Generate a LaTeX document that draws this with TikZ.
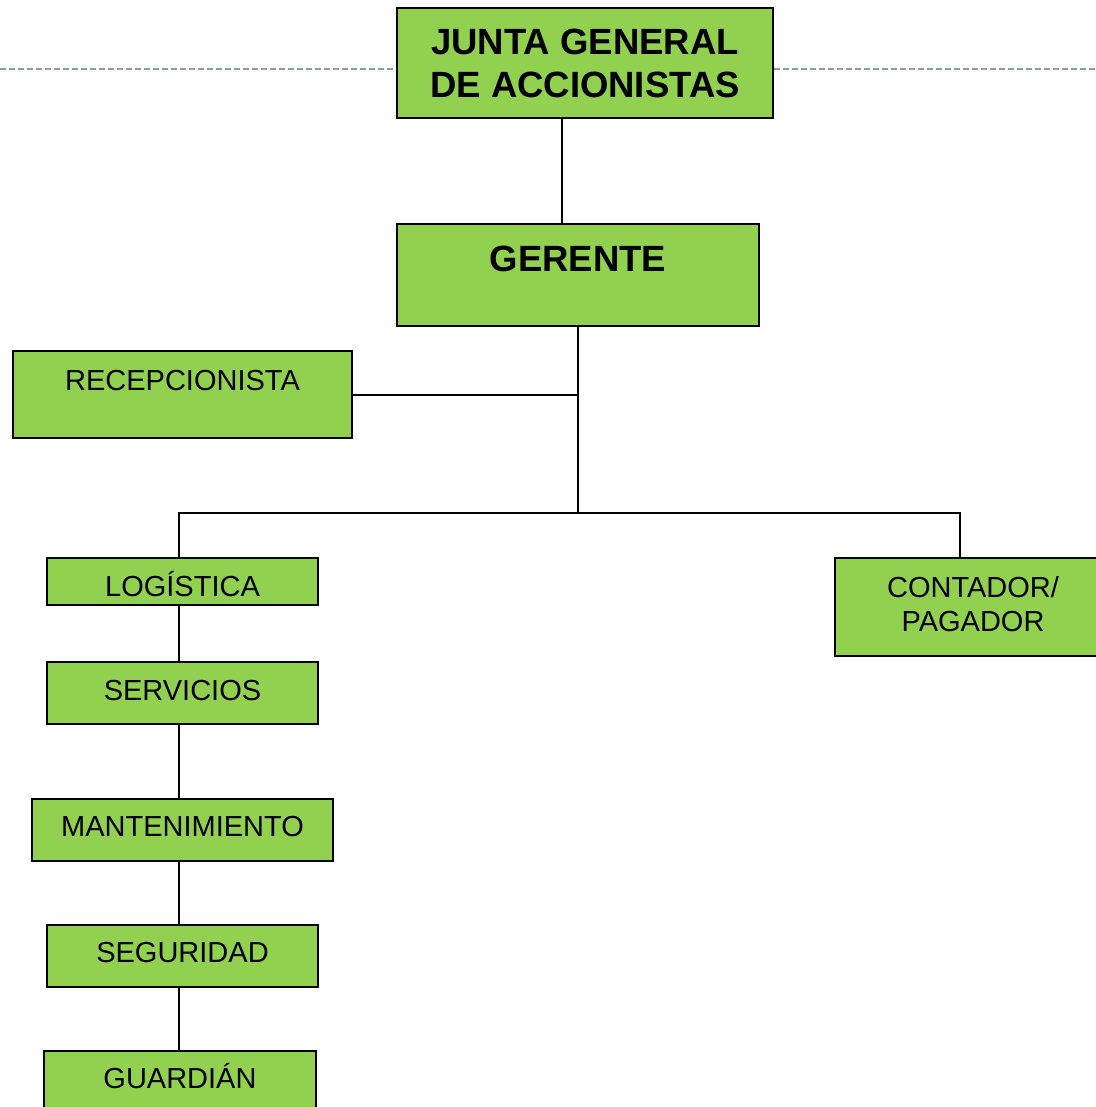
\documentclass[tikz,border=0pt]{standalone}
\usepackage{fontspec}
\setmainfont{Liberation Sans}
\definecolor{boxgreen}{HTML}{92D050}
\definecolor{sepgray}{HTML}{87A0A0}
\newcommand{\titlefont}{\fontsize{36.5}{43}\selectfont\bfseries}
\newcommand{\boxfont}{\fontsize{29}{34}\selectfont}

\begin{document}
\begin{tikzpicture}[x=1pt,y=-1pt,
  box/.style={draw, line width=2pt, fill=boxgreen, anchor=north west, inner sep=0pt, align=center, font=\boxfont},
  link/.style={line width=2pt},
  sep/.style={sepgray, line width=1.5pt, dash pattern=on 6pt off 3pt}]
\useasboundingbox (0,0) rectangle (1095,1107);
% boxes
\node[box, minimum width=376pt, minimum height=110pt, font=\titlefont] (junta) at (396,7) {JUNTA GENERAL\\DE ACCIONISTAS};
\node[box, minimum width=362pt, text height=47pt, text depth=55pt, font=\titlefont] (ger) at (396,223) {GERENTE};
\node[box, minimum width=339pt, text height=39.5pt, text depth=47.5pt] (rec) at (12,350) {RECEPCIONISTA};
\node[box, minimum width=271pt, text height=38.5pt, text depth=8.5pt] (log) at (46,557) {LOGÍSTICA};
\node[box, minimum width=271pt, text height=38.5pt, text depth=23.5pt] (serv) at (46,661) {SERVICIOS};
\node[box, minimum width=301pt, text height=37.5pt, text depth=24.5pt] (mant) at (31,798) {MANTENIMIENTO};
\node[box, minimum width=271pt, text height=37.5pt, text depth=24.5pt] (seg) at (46,924) {SEGURIDAD};
\node[box, minimum width=272pt, text height=37.5pt, text depth=30pt] (guard) at (43,1050) {GUARDIÁN};
\node[box, minimum width=276pt, text height=73.5pt, text depth=24.5pt] (cont) at (834,557) {CONTADOR/\\PAGADOR};
% separator
\draw[sep] (0,69) -- (junta.west |- 0,69);
\draw[sep] (junta.east |- 0,69) -- (1095,69);
% connectors
\coordinate (bus) at (ger.south |- 0,513);
\coordinate (chain) at (178.5,0);
\draw[link] (junta.south -| 562,0) -- (ger.north -| 562,0);
\draw[link] (ger.south) -- (bus);
\draw[link] (rec.east) -- (rec.east -| bus);
\draw[link] (log.north -| chain) |- (bus);
\draw[link] (cont.north -| 960,0) |- (bus);
\draw[link] (log.south -| chain) -- (serv.north -| chain);
\draw[link] (serv.south -| chain) -- (mant.north -| chain);
\draw[link] (mant.south -| chain) -- (seg.north -| chain);
\draw[link] (seg.south -| chain) -- (guard.north -| chain);
\end{tikzpicture}
\end{document}
